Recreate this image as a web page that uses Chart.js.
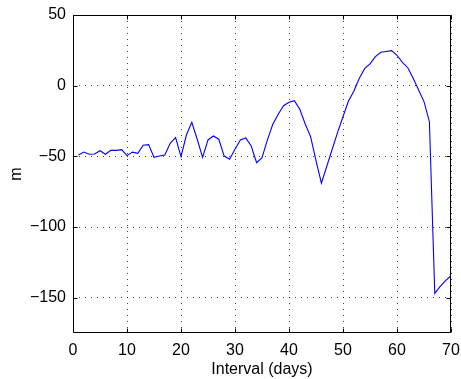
<!DOCTYPE html>
<html>
<head>
<meta charset="utf-8">
<script src="https://cdn.jsdelivr.net/npm/chart.js@4/dist/chart.umd.min.js"></script>
<style>
html,body{margin:0;padding:0;background:#fff;}
#wrap{width:461px;height:379px;position:relative;}
</style>
</head>
<body>
<div id="wrap"><canvas id="c" width="461" height="379"></canvas></div>
<script>
const days = [];
for (let d = 1; d <= 70; d++) days.push(d);
const values = [
  -49, -47, -48.5, -48.3, -46, -48.5, -45.7, -45.8, -45.3, -49.5,
  -47, -47.9, -42.2, -41.7, -50.7, -49.8, -49, -40.8, -36.8, -50.2,
  -34.9, -25.9, -37.9, -50.7, -38.4, -35.6, -37.9, -49.8, -52, -45,
  -38.4, -37, -42.7, -54.5, -51, -38.4, -27.3, -20.2, -14.2, -11.8,
  -10.6, -16.7, -27.1, -36, -53, -69, -57, -45, -33, -22,
  -11, -4, 5, 12, 15.4, 20.5, 23.6, 24.2, 24.8, 21.5,
  16.5, 12.7, 5.2, -3, -11.3, -25.5, -147, -142, -138, -134.5
];
const xTicks = [0, 10, 20, 30, 40, 50, 60, 70];
const yTicks = [-150, -100, -50, 0, 50];
const xRange = [0, 70];
const yRange = [-175, 50];

const FONT = '"Liberation Sans", Arial, Helvetica, sans-serif';
const fmt = v => String(v).replace('-', '\u2212');

const boxPlugin = {
  id: 'box',
  afterDraw(chart) {
    const {ctx, chartArea: a, scales: {x, y}} = chart;
    ctx.save();
    ctx.strokeStyle = '#000';
    ctx.lineWidth = 1;
    ctx.beginPath();
    const L = Math.round(a.left) + 0.5, R = Math.round(a.right) - 0.5;
    const T = Math.round(a.top) + 0.5, B = Math.round(a.bottom) - 0.5;
    ctx.rect(L, T, R - L, B - T);
    const tl = 4;
    xTicks.forEach(v => {
      const px = Math.round(x.getPixelForValue(v)) + 0.5;
      ctx.moveTo(px, B); ctx.lineTo(px, B - tl);
      ctx.moveTo(px, T); ctx.lineTo(px, T + tl);
    });
    yTicks.forEach(v => {
      const py = Math.round(y.getPixelForValue(v)) + 0.5;
      ctx.moveTo(L, py); ctx.lineTo(L + tl, py);
      ctx.moveTo(R, py); ctx.lineTo(R - tl, py);
    });
    ctx.stroke();
    ctx.restore();
  }
};

new Chart(document.getElementById('c'), {
  type: 'line',
  data: {
    datasets: [{
      data: days.map((d, i) => ({x: d, y: values[i]})),
      borderColor: '#0000ff',
      borderWidth: 1.1,
      pointRadius: 0,
      tension: 0,
      fill: false
    }]
  },
  options: {
    responsive: false,
    animation: false,
    events: [],
    layout: {padding: {left: 0, right: 10, top: 15, bottom: 0}},
    plugins: {legend: {display: false}, tooltip: {enabled: false}},
    scales: {
      x: {
        type: 'linear',
        min: xRange[0], max: xRange[1],
        afterBuildTicks: s => { s.ticks = xTicks.map(v => ({value: v})); },
        afterFit: s => { s.height = 46; s.paddingLeft = 0; s.paddingRight = 0; },
        grid: {color: 'rgba(0,0,0,0.75)', lineWidth: 1, drawTicks: false},
        border: {display: false, dash: [1, 5]},
        ticks: {font: {family: FONT, size: 16}, color: '#000', padding: 8, maxRotation: 0, callback: v => fmt(v)},
        title: {display: true, text: 'Interval (days)', font: {family: FONT, size: 16}, color: '#000', padding: {top: 0, bottom: 0}}
      },
      y: {
        type: 'linear',
        min: yRange[0], max: yRange[1],
        afterBuildTicks: s => { s.ticks = yTicks.map(v => ({value: v})); },
        afterFit: s => { s.width = 73; s.paddingTop = 0; s.paddingBottom = 0; },
        grid: {color: 'rgba(0,0,0,0.75)', lineWidth: 1, drawTicks: false},
        border: {display: false, dash: [1, 5]},
        ticks: {font: {family: FONT, size: 16}, color: '#000', padding: 7, callback: v => fmt(v)},
        title: {display: true, text: 'm', font: {family: FONT, size: 16}, color: '#000', padding: {top: 7, bottom: 0}}
      }
    }
  },
  plugins: [boxPlugin]
});
</script>
</body>
</html>
